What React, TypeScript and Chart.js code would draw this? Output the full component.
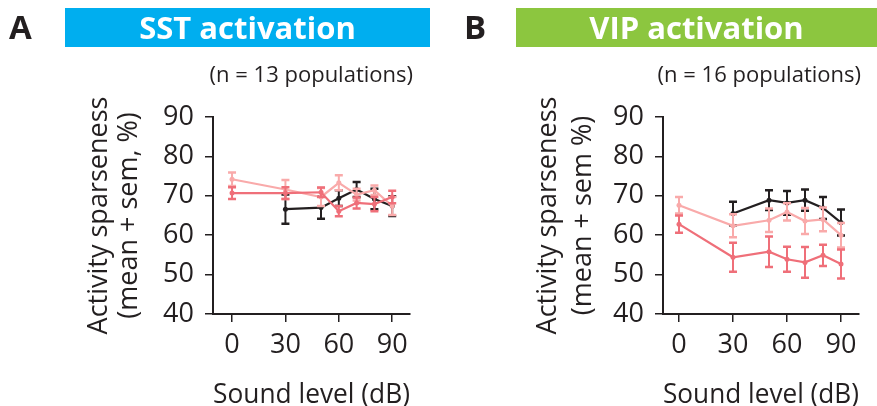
import React, { useEffect, useRef } from "react";
import { Chart, registerables } from "chart.js";

Chart.register(...registerables);

// ---------- data ----------
const LEVELS_ALL = [0, 30, 50, 60, 70, 80, 90];
const LEVELS_LOUD = [30, 50, 60, 70, 80, 90];
const X_TICKS = [0, 30, 60, 90];
const Y_TICKS = [40, 50, 60, 70, 80, 90];

// Panel A: SST activation
const A_BLACK_MEAN = [66.6, 67.0, 69.4, 71.6, 69.2, 67.4];
const A_BLACK_SEM = [3.7, 2.8, 2.0, 1.9, 2.6, 2.5];
const A_PINK_MEAN = [74.2, 71.6, 69.7, 73.3, 70.3, 71.4, 67.4];
const A_PINK_SEM = [1.7, 2.4, 2.3, 1.9, 1.5, 1.2, 2.3];
const A_RED_MEAN = [70.7, 70.7, 70.9, 66.1, 68.2, 67.9, 69.7];
const A_RED_SEM = [1.5, 1.5, 1.2, 1.3, 1.4, 1.8, 1.6];

// Panel B: VIP activation
const B_BLACK_MEAN = [65.5, 68.9, 68.2, 68.9, 66.9, 63.2];
const B_BLACK_SEM = [3.0, 2.5, 3.0, 2.7, 2.8, 3.3];
const B_PINK_MEAN = [67.6, 62.4, 63.8, 65.9, 63.6, 64.0, 60.0];
const B_PINK_SEM = [2.1, 2.9, 3.0, 2.2, 3.3, 3.0, 3.1];
const B_RED_MEAN = [62.8, 54.4, 55.8, 53.9, 53.1, 54.9, 52.7];
const B_RED_SEM = [2.2, 3.7, 3.9, 3.2, 3.9, 2.7, 3.7];

// ---------- style ----------
const INK = "#231f20";
const PINK = "#f9aaaa";
const RED = "#ef6f79";
const FONT = "'Open Sans', 'Noto Sans', sans-serif";

const errorBars = {
  id: "errorBars",
  afterDatasetDraw(chart: any, args: any) {
    const ds = chart.data.datasets[args.index];
    const sem: number[] = ds.sem;
    if (!sem) return;
    const ctx = chart.ctx;
    const yScale = chart.scales.y;
    ctx.save();
    ctx.strokeStyle = ds.borderColor;
    args.meta.data.forEach((pt: any, i: number) => {
      const v = ds.data[i].y;
      const top = yScale.getPixelForValue(v + sem[i]);
      const bot = yScale.getPixelForValue(v - sem[i]);
      const x = pt.x;
      ctx.lineWidth = 2;
      ctx.beginPath();
      ctx.moveTo(x, top);
      ctx.lineTo(x, bot);
      ctx.stroke();
      ctx.lineWidth = 2.5;
      ctx.beginPath();
      ctx.moveTo(x - 4, top);
      ctx.lineTo(x + 4, top);
      ctx.moveTo(x - 4, bot);
      ctx.lineTo(x + 4, bot);
      ctx.stroke();
    });
    ctx.restore();
  },
};

function series(xs: number[], ys: number[], sem: number[], color: string) {
  return {
    data: xs.map((x, i) => ({ x, y: ys[i] })),
    sem,
    borderColor: color,
    backgroundColor: color,
    pointBackgroundColor: color,
    pointBorderWidth: 0,
    pointRadius: 2.5,
    borderWidth: 2.2,
    tension: 0,
  };
}

function makeConfig(p: any) {
  return {
    type: "line",
    data: {
      datasets: [
        series(LEVELS_ALL, p.red, p.redSem, RED),
        series(LEVELS_ALL, p.pink, p.pinkSem, PINK),
        series(LEVELS_LOUD, p.black, p.blackSem, INK),
      ],
    },
    plugins: [errorBars],
    options: {
      responsive: false,
      animation: false,
      events: [],
      layout: { padding: { left: p.padLeft, right: p.padRight, top: 117, bottom: 0 } },
      plugins: { legend: { display: false }, tooltip: { enabled: false } },
      scales: {
        x: {
          type: "linear",
          min: p.xMin,
          max: 100,
          afterBuildTicks: (s: any) => {
            s.ticks = X_TICKS.map((v) => ({ value: v }));
          },
          afterFit: (s: any) => {
            s.height = 92;
          },
          border: { display: true, color: INK, width: 2 },
          grid: { display: true, drawOnChartArea: false, drawTicks: true, tickLength: 8, color: INK, lineWidth: 1.5 },
          ticks: { color: INK, padding: 7, maxRotation: 0, font: { family: FONT, size: 27, lineHeight: 1.2 } },
          title: {
            display: true,
            text: "Sound level (dB)",
            color: INK,
            padding: { top: 0, bottom: -3 },
            font: { family: FONT, size: 27, lineHeight: 1.0 },
          },
        },
        y: {
          min: 40,
          max: 90,
          afterBuildTicks: (s: any) => {
            s.ticks = Y_TICKS.map((v) => ({ value: v }));
          },
          afterFit: (s: any) => {
            s.width = p.yWidth;
          },
          border: { display: true, color: INK, width: 2 },
          grid: { display: true, drawOnChartArea: false, drawTicks: true, tickLength: 8, color: INK, lineWidth: 1.5 },
          ticks: { color: INK, padding: 11, font: { family: FONT, size: 27 } },
          title: {
            display: true,
            text: ["Activity sparseness", p.yLine2],
            color: INK,
            padding: { top: 0, bottom: 0 },
            font: { family: FONT, size: 27, lineHeight: p.titleLH },
          },
        },
      },
    },
  } as any;
}

const PANEL_A = {
  red: A_RED_MEAN, redSem: A_RED_SEM,
  pink: A_PINK_MEAN, pinkSem: A_PINK_SEM,
  black: A_BLACK_MEAN, blackSem: A_BLACK_SEM,
  padLeft: 85, padRight: 30, yWidth: 128, xMin: -10.7, titleLH: "29.5px",
  yLine2: "(mean + sem, %)",
};
const PANEL_B = {
  red: B_RED_MEAN, redSem: B_RED_SEM,
  pink: B_PINK_MEAN, pinkSem: B_PINK_SEM,
  black: B_BLACK_MEAN, blackSem: B_BLACK_SEM,
  padLeft: 91, padRight: 18, yWidth: 132, xMin: -8.9, titleLH: "35px",
  yLine2: "(mean + sem %)",
};

const abs = (o: any) => ({ position: "absolute" as const, margin: 0, ...o });

export default function App() {
  const refA = useRef<HTMLCanvasElement>(null);
  const refB = useRef<HTMLCanvasElement>(null);

  useEffect(() => {
    const a = new Chart(refA.current as any, makeConfig(PANEL_A));
    const b = new Chart(refB.current as any, makeConfig(PANEL_B));
    return () => {
      a.destroy();
      b.destroy();
    };
  }, []);

  const letter = { fontFamily: FONT, fontWeight: 700, fontSize: 33, lineHeight: "33px", color: INK };
  const banner = {
    display: "flex",
    alignItems: "center",
    justifyContent: "center",
    fontFamily: FONT,
    fontWeight: 700,
    fontSize: 31,
    lineHeight: "31px",
    color: "#ffffff",
    height: 39,
    top: 8,
  };
  const sub = { fontFamily: FONT, fontSize: 22, lineHeight: "22px", color: INK, textAlign: "right" as const, top: 62, whiteSpace: "nowrap" as const };

  return (
    <div style={abs({ left: 0, top: 0, width: 877, height: 406, background: "#fff", overflow: "hidden" })}>
      <canvas ref={refA} width={440} height={406} style={abs({ left: 0, top: 0, width: 440, height: 406 })} />
      <canvas ref={refB} width={437} height={406} style={abs({ left: 440, top: 0, width: 437, height: 406 })} />
      <div style={abs({ ...letter, left: 9, top: 10 })}>A</div>
      <div style={abs({ ...letter, left: 464, top: 10 })}>B</div>
      <div style={abs({ ...banner, left: 65, width: 365, background: "#00aeef" })}>SST activation</div>
      <div style={abs({ ...banner, left: 516, width: 361, background: "#8cc63f" })}>VIP activation</div>
      <div style={abs({ ...sub, left: 0, width: 413 })}>(n = 13 populations)</div>
      <div style={abs({ ...sub, left: 440, width: 421 })}>(n = 16 populations)</div>
    </div>
  );
}
